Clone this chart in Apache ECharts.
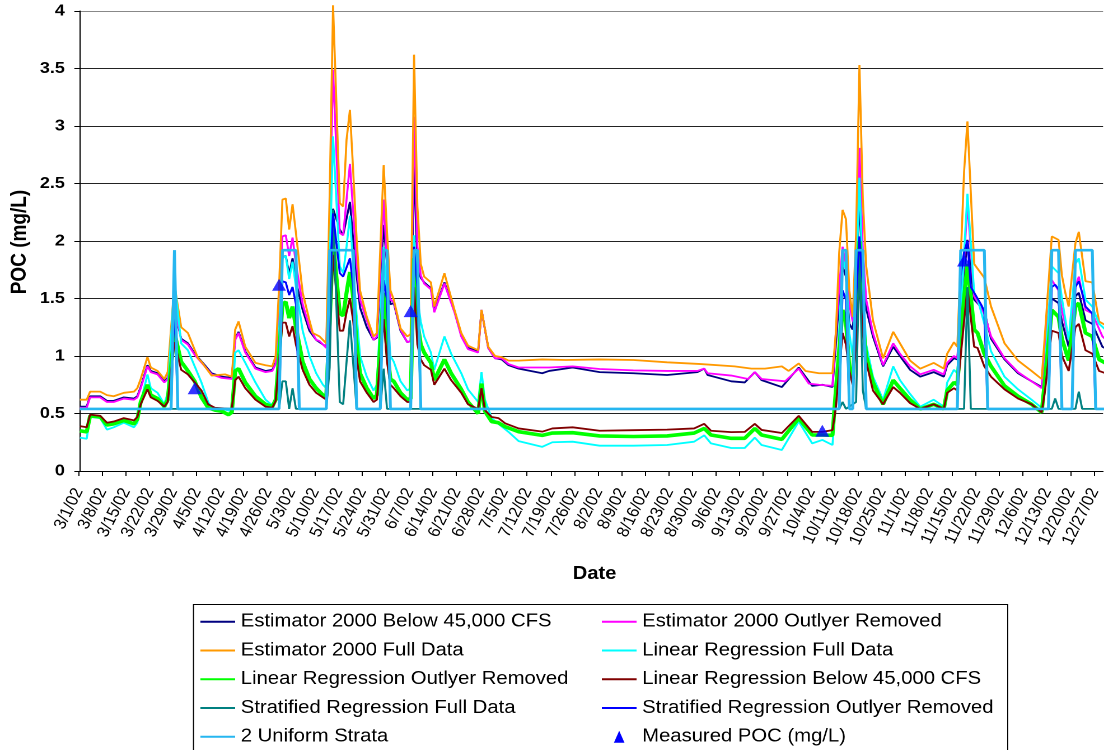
<!DOCTYPE html>
<html>
<head>
<meta charset="utf-8">
<script src="https://cdn.jsdelivr.net/npm/echarts@6/dist/echarts.min.js"></script>
<style>
html,body{margin:0;padding:0;background:#fff;overflow:hidden;width:1104px;height:750px;}
#wrap{width:986px;height:750px;transform:scaleX(1.1197);transform-origin:0 0;}
</style>
</head>
<body>
<div id="wrap"></div>
<script>
// ---- tick labels (one every 7 days, day 0 = 3/1/02) ----
const tickLabels = ['3/1/02','3/8/02','3/15/02','3/22/02','3/29/02','4/5/02','4/12/02','4/19/02','4/26/02','5/3/02','5/10/02','5/17/02','5/24/02','5/31/02','6/7/02','6/14/02','6/21/02','6/28/02','7/5/02','7/12/02','7/19/02','7/26/02','8/2/02','8/9/02','8/16/02','8/23/02','8/30/02','9/6/02','9/13/02','9/20/02','9/27/02','10/4/02','10/11/02','10/18/02','10/25/02','11/1/02','11/8/02','11/15/02','11/22/02','11/29/02','12/6/02','12/13/02','12/20/02','12/27/02'];

const seriesNames = ['Estimator 2000 Below 45,000 CFS','Estimator 2000 Outlyer Removed','Estimator 2000 Full Data','Linear Regression Full Data','Linear Regression Outlyer Removed','Linear Regression Below 45,000 CFS','Stratified Regression Full Data','Stratified Regression Outlyer Removed','2 Uniform Strata','Measured POC (mg/L)'];

// ---- series values: [day index, POC mg/L] ----
const e2000Below = [[0,0.56],[2,0.56],[3,0.65],[6,0.65],[8,0.61],[10,0.61],[13,0.64],[16,0.63],[17,0.65],[18,0.73],[20,0.92],[21,0.87],[23,0.85],[25,0.78],[26,0.81],[28,1.40],[30,1.15],[32,1.11],[34,1.02],[37,0.92],[39,0.85],[42,0.82],[45,0.81],[46,1.15],[47,1.21],[49,1.04],[52,0.90],[55,0.87],[57,0.88],[58,0.94],[59,1.4],[60,1.86],[61,1.87],[62,1.71],[63,1.85],[64,1.65],[66,1.40],[68,1.22],[70,1.14],[71,1.12],[73,1.08],[74,1.6],[75,2.28],[77,2.1],[78,2.05],[80,2.34],[81,2.0],[82,1.7],[83,1.42],[85,1.25],[87,1.14],[88,1.16],[90,2.14],[91,1.8],[92,1.45],[93,1.46],[95,1.22],[97,1.12],[98,1.13],[99,2.65],[100,1.8],[101,1.68],[102,1.64],[104,1.59],[105,1.39],[108,1.64],[111,1.39],[113,1.18],[115,1.07],[118,1.04],[119,1.40],[121,1.07],[123,0.98],[125,0.97],[127,0.92],[130,0.89],[137,0.85],[139,0.87],[146,0.90],[154,0.86],[164,0.85],[174,0.835],[183,0.86],[185,0.89],[186,0.835],[193,0.78],[197,0.77],[200,0.86],[202,0.79],[208,0.73],[213,0.90],[217,0.74],[220,0.75],[223,0.73],[224,1.1],[225,1.5],[226,1.78],[227,1.69],[228,1.28],[229,1.23],[230,1.6],[231,2.36],[232,1.69],[233,1.41],[235,1.17],[238,0.91],[241,1.08],[243,1.0],[246,0.88],[249,0.82],[253,0.86],[256,0.82],[257,0.92],[259,0.98],[260,0.97],[262,1.7],[263,2.01],[265,1.49],[266,1.46],[268,1.39],[270,1.15],[274,0.97],[278,0.85],[282,0.78],[285,0.73],[286,1.0],[288,1.5],[290,1.46],[291,1.3],[293,1.08],[295,1.52],[296,1.55],[298,1.31],[300,1.28],[303,1.08],[305,1.05]];

const e2000Outlyer = [[0,0.55],[2,0.55],[3,0.64],[6,0.64],[8,0.60],[10,0.60],[13,0.63],[16,0.62],[17,0.64],[18,0.72],[20,0.91],[21,0.86],[23,0.84],[25,0.77],[26,0.80],[28,1.45],[30,1.14],[32,1.10],[34,1.01],[37,0.91],[39,0.84],[42,0.81],[45,0.80],[46,1.14],[47,1.20],[49,1.03],[52,0.89],[55,0.86],[57,0.87],[58,0.93],[59,1.5],[60,2.04],[61,2.05],[62,1.87],[63,2.03],[64,1.8],[66,1.45],[68,1.25],[70,1.14],[71,1.13],[73,1.07],[74,2.2],[75,3.49],[77,2.07],[78,2.05],[79,2.36],[80,2.67],[81,2.24],[82,1.81],[83,1.49],[85,1.31],[87,1.14],[88,1.17],[90,2.36],[91,1.8],[92,1.49],[93,1.47],[95,1.23],[97,1.12],[98,1.13],[99,3.08],[100,1.95],[101,1.7],[102,1.63],[104,1.58],[105,1.38],[108,1.63],[111,1.38],[113,1.17],[115,1.06],[118,1.03],[119,1.40],[121,1.07],[123,0.98],[125,0.98],[127,0.93],[130,0.90],[139,0.90],[146,0.91],[154,0.887],[164,0.875],[174,0.87],[183,0.87],[185,0.89],[186,0.85],[193,0.83],[198,0.80],[200,0.86],[202,0.80],[209,0.78],[213,0.89],[216,0.76],[219,0.75],[223,0.74],[224,1.2],[225,1.6],[226,1.95],[227,1.78],[228,1.45],[229,1.30],[230,1.75],[231,2.81],[232,1.92],[233,1.49],[235,1.2],[238,0.92],[241,1.11],[243,1.02],[246,0.91],[249,0.84],[253,0.88],[256,0.84],[257,0.94],[259,1.0],[260,0.98],[262,1.83],[263,2.33],[265,1.52],[266,1.47],[268,1.37],[270,1.17],[274,0.98],[278,0.86],[282,0.78],[285,0.72],[286,1.1],[288,1.66],[290,1.57],[291,1.4],[293,1.14],[295,1.6],[296,1.69],[298,1.4],[300,1.37],[303,1.17],[305,1.12]];

const e2000Full = [[0,0.62],[2,0.62],[3,0.69],[6,0.69],[8,0.66],[10,0.65],[13,0.68],[16,0.69],[17,0.72],[18,0.80],[20,0.99],[21,0.90],[23,0.87],[25,0.80],[26,0.86],[28,1.62],[30,1.25],[32,1.20],[35,0.98],[36,0.95],[39,0.83],[43,0.84],[45,0.82],[46,1.23],[47,1.30],[49,1.08],[52,0.94],[55,0.92],[57,0.91],[58,1.0],[59,1.6],[60,2.36],[61,2.37],[62,2.10],[63,2.32],[64,2.07],[66,1.55],[68,1.31],[69,1.20],[71,1.17],[73,1.11],[74,2.4],[75,4.05],[77,2.33],[78,2.30],[79,2.88],[80,3.14],[81,2.59],[82,2.01],[83,1.57],[85,1.34],[87,1.17],[88,1.20],[90,2.66],[91,2.07],[92,1.57],[93,1.49],[95,1.24],[97,1.17],[98,1.19],[99,3.62],[100,2.3],[101,1.8],[102,1.69],[104,1.64],[105,1.43],[108,1.72],[111,1.40],[113,1.20],[115,1.09],[118,1.05],[119,1.40],[121,1.08],[123,1.0],[125,0.99],[127,0.96],[130,0.96],[137,0.97],[144,0.965],[154,0.97],[164,0.965],[174,0.945],[184,0.93],[194,0.91],[199,0.89],[203,0.89],[208,0.91],[210,0.87],[213,0.935],[215,0.87],[219,0.85],[223,0.85],[224,1.2],[225,1.9],[226,2.27],[227,2.19],[228,1.57],[229,1.34],[230,2.06],[231,3.53],[232,2.36],[233,1.78],[235,1.31],[238,0.98],[241,1.21],[243,1.11],[246,0.96],[249,0.89],[253,0.94],[256,0.89],[257,1.02],[259,1.12],[260,1.08],[262,2.6],[263,3.04],[265,1.80],[266,1.76],[268,1.68],[270,1.43],[274,1.11],[278,0.96],[282,0.87],[285,0.80],[286,1.2],[288,2.04],[290,2.01],[291,1.7],[292,1.55],[293,1.43],[295,1.98],[296,2.08],[298,1.65],[300,1.64],[302,1.30],[305,1.25]];

const lrFull = [[0,0.29],[2,0.28],[3,0.47],[6,0.46],[8,0.36],[10,0.38],[13,0.42],[16,0.38],[17,0.42],[18,0.60],[20,0.84],[21,0.72],[23,0.68],[25,0.58],[26,0.68],[28,1.65],[30,1.11],[32,1.05],[34,0.91],[36,0.77],[38,0.60],[39,0.55],[42,0.54],[45,0.52],[46,1.03],[47,1.05],[49,0.94],[52,0.77],[55,0.62],[57,0.57],[58,0.63],[59,1.2],[60,1.85],[61,1.87],[62,1.67],[63,1.82],[64,1.6],[66,1.22],[68,1.0],[70,0.85],[72,0.75],[73,0.72],[74,1.8],[75,2.91],[77,1.78],[78,1.72],[79,1.95],[80,2.22],[81,1.75],[82,1.35],[83,1.0],[85,0.82],[87,0.70],[88,0.75],[90,1.95],[91,1.4],[92,1.0],[93,0.95],[95,0.78],[97,0.70],[98,0.72],[99,2.05],[100,1.5],[101,1.3],[102,1.17],[104,1.03],[105,0.88],[108,1.17],[110,1.02],[113,0.85],[115,0.71],[118,0.60],[119,0.86],[120,0.62],[122,0.46],[124,0.41],[127,0.34],[130,0.26],[137,0.21],[140,0.25],[146,0.255],[154,0.22],[164,0.22],[174,0.226],[182,0.255],[185,0.31],[187,0.24],[193,0.20],[197,0.20],[200,0.29],[202,0.226],[208,0.183],[213,0.43],[217,0.24],[220,0.27],[223,0.226],[224,0.6],[226,1.85],[227,1.75],[228,1.2],[229,1.0],[230,1.6],[231,2.55],[232,1.6],[233,1.1],[235,0.82],[238,0.62],[241,0.91],[243,0.79],[246,0.67],[249,0.56],[253,0.62],[256,0.56],[257,0.77],[259,0.88],[260,0.85],[262,1.9],[263,2.41],[265,1.55],[266,1.5],[268,1.28],[270,1.04],[274,0.82],[278,0.71],[282,0.62],[285,0.55],[286,0.9],[288,1.78],[290,1.72],[291,1.5],[293,1.14],[295,1.80],[296,1.85],[298,1.49],[300,1.43],[302,1.28],[305,1.2]];

const lrOutlyer = [[0,0.35],[2,0.34],[3,0.48],[6,0.47],[8,0.40],[10,0.41],[13,0.44],[16,0.41],[17,0.45],[18,0.60],[20,0.75],[21,0.66],[23,0.63],[25,0.56],[26,0.62],[28,1.2],[30,0.95],[32,0.87],[34,0.78],[36,0.64],[38,0.55],[40,0.53],[42,0.52],[44,0.49],[45,0.51],[46,0.87],[47,0.89],[49,0.77],[52,0.65],[55,0.58],[57,0.56],[58,0.62],[59,1.0],[60,1.45],[61,1.47],[62,1.33],[63,1.43],[64,1.25],[66,0.95],[68,0.80],[70,0.72],[72,0.66],[73,0.65],[74,1.3],[75,2.0],[77,1.37],[78,1.35],[79,1.55],[80,1.73],[81,1.5],[82,1.1],[83,0.85],[85,0.72],[87,0.63],[88,0.66],[90,1.55],[91,1.05],[92,0.8],[93,0.78],[95,0.68],[97,0.62],[98,0.63],[99,1.85],[100,1.3],[101,1.1],[102,1.03],[104,0.94],[105,0.79],[108,0.97],[110,0.85],[113,0.71],[115,0.6],[118,0.5],[119,0.76],[120,0.52],[122,0.43],[124,0.42],[126,0.385],[130,0.342],[137,0.31],[140,0.33],[146,0.333],[154,0.305],[164,0.30],[174,0.305],[182,0.33],[185,0.37],[187,0.313],[193,0.284],[197,0.284],[200,0.37],[202,0.313],[208,0.275],[213,0.458],[217,0.313],[220,0.313],[223,0.31],[224,0.7],[226,1.4],[227,1.3],[228,0.9],[229,0.8],[230,1.3],[231,2.0],[232,1.3],[233,1.0],[235,0.77],[238,0.58],[241,0.79],[243,0.72],[246,0.62],[249,0.54],[253,0.58],[256,0.54],[257,0.70],[259,0.77],[260,0.75],[262,1.5],[263,1.80],[265,1.23],[266,1.2],[268,1.02],[270,0.91],[274,0.74],[278,0.65],[282,0.58],[285,0.51],[286,0.8],[288,1.4],[290,1.34],[291,1.15],[293,0.96],[295,1.43],[296,1.46],[298,1.2],[300,1.17],[302,0.97],[305,0.92]];

const lrBelow = [[0,0.39],[2,0.38],[3,0.49],[6,0.48],[8,0.42],[10,0.43],[13,0.46],[16,0.44],[17,0.47],[18,0.58],[20,0.71],[21,0.64],[23,0.61],[25,0.56],[26,0.60],[28,1.12],[30,0.88],[32,0.84],[34,0.77],[36,0.70],[38,0.58],[40,0.55],[45,0.54],[46,0.79],[47,0.82],[49,0.72],[52,0.62],[55,0.56],[57,0.55],[58,0.61],[59,0.95],[60,1.29],[61,1.29],[62,1.17],[63,1.26],[64,1.1],[66,0.88],[68,0.75],[70,0.68],[72,0.64],[73,0.62],[74,1.2],[75,1.88],[77,1.22],[78,1.22],[79,1.38],[80,1.50],[81,1.3],[82,0.98],[83,0.78],[85,0.68],[87,0.6],[88,0.62],[90,1.32],[91,0.95],[92,0.75],[93,0.72],[95,0.65],[97,0.6],[98,0.6],[99,1.6],[100,1.1],[101,0.97],[102,0.92],[104,0.88],[105,0.75],[108,0.89],[110,0.79],[113,0.68],[115,0.58],[118,0.54],[119,0.72],[120,0.53],[122,0.47],[124,0.46],[126,0.415],[130,0.37],[137,0.342],[140,0.37],[146,0.38],[154,0.35],[164,0.355],[174,0.36],[182,0.37],[185,0.41],[187,0.35],[193,0.338],[197,0.34],[200,0.41],[202,0.357],[208,0.33],[213,0.48],[217,0.34],[220,0.34],[223,0.355],[224,0.55],[226,1.2],[227,1.1],[228,0.87],[229,0.75],[230,1.1],[231,1.65],[232,1.2],[233,0.95],[235,0.70],[238,0.58],[241,0.73],[243,0.68],[246,0.59],[249,0.54],[253,0.58],[256,0.54],[257,0.68],[259,0.72],[260,0.7],[262,1.3],[263,1.59],[265,1.08],[266,1.07],[268,0.91],[270,0.82],[274,0.71],[278,0.63],[282,0.58],[285,0.51],[286,0.7],[288,1.22],[290,1.2],[291,1.0],[293,0.87],[295,1.25],[296,1.28],[298,1.05],[300,1.02],[302,0.87],[305,0.84]];

const stratFull = [[0,0.54],[59,0.54],[60,0.78],[61,0.78],[62,0.54],[63,0.72],[64,0.54],[73,0.54],[74,0.9],[75,2.27],[77,0.6],[78,0.58],[80,1.31],[82,0.54],[89,0.54],[90,0.89],[91,0.54],[225,0.54],[226,0.60],[227,0.54],[230,0.6],[231,1.9],[232,0.7],[233,0.54],[262,0.54],[263,1.6],[264,0.54],[288,0.54],[289,0.63],[290,0.54],[295,0.54],[296,0.69],[297,0.54],[305,0.54]];

const stratOutlyer = [[0,0.54],[27,0.54],[28,1.49],[29,0.54],[59,0.54],[60,1.65],[61,1.64],[62,1.53],[63,1.60],[64,1.45],[65,0.54],[73,0.54],[74,1.6],[75,2.24],[77,1.72],[78,1.69],[80,1.85],[81,1.6],[82,0.54],[89,0.54],[90,1.66],[91,1.49],[92,0.54],[98,0.54],[99,1.95],[100,1.6],[101,0.54],[225,0.54],[226,1.57],[227,1.49],[228,0.54],[229,0.54],[230,1.5],[231,2.04],[232,1.6],[233,0.54],[260,0.54],[261,1.7],[262,1.9],[263,2.0],[264,1.6],[265,1.55],[266,1.5],[267,1.45],[268,1.39],[269,0.54],[287,0.54],[288,1.6],[289,1.62],[290,1.58],[291,0.54],[294,0.54],[295,1.6],[296,1.65],[297,1.55],[298,1.43],[299,1.40],[300,1.37],[301,0.54],[305,0.54]];

const uniformStrata = [[0,0.54],[27,0.54],[28,1.92],[29,0.54],[59,0.54],[60,1.92],[64,1.92],[65,0.54],[73,0.54],[74,1.92],[81,1.92],[82,0.54],[89,0.54],[90,1.92],[91,1.92],[92,0.54],[98,0.54],[99,1.92],[100,1.92],[101,0.54],[225,0.54],[226,1.92],[227,1.92],[228,0.54],[229,0.54],[230,1.92],[232,1.92],[233,0.54],[260,0.54],[261,1.92],[268,1.92],[269,0.54],[287,0.54],[288,1.92],[290,1.92],[291,0.54],[294,0.54],[295,1.92],[300,1.92],[301,0.54],[305,0.54]];

const measuredPOC = [[34,0.72],[59,1.62],[98,1.39],[220,0.35],[262,1.83]];

// ---- styling ----
const colors = ['#000080','#FF00FF','#FF9900','#00FFFF','#00FF00','#800000','#008080','#0000FF','#26B6F0','#0000FF'];
const widths = [1.8,1.8,1.8,1.8,3.6,1.8,1.8,1.8,2.6];
const lineData = [e2000Below,e2000Outlyer,e2000Full,lrFull,lrOutlyer,lrBelow,stratFull,stratOutlyer,uniformStrata];

const FONT = '"Liberation Sans", Arial, sans-serif';
const labelShift = -0.35;
const tickVals = tickLabels.map((_, k) => 7 * k - 0.5);
const labelVals = tickLabels.map((_, k) => 7 * k + labelShift);

const series = lineData.map((d, i) => ({
  name: seriesNames[i], type: 'line', data: d, symbol: 'none', clip: false,
  lineStyle: { color: colors[i], width: widths[i] }, itemStyle: { color: colors[i] },
  emphasis: { disabled: true }, silent: true, z: 2 + i * 0.01
}));
series.push({
  name: seriesNames[9], type: 'scatter', data: measuredPOC, symbol: 'triangle',
  symbolSize: [12.5, 12], itemStyle: { color: colors[9] }, z: 5, silent: true
});

// legend triangle: centred in the 31x12 icon box, 9.5 wide
const triIcon = 'path://M0,0L0,0M31,12L31,12M15.5,0L20.25,12L10.75,12Z';
function legendItems(idx) {
  return idx.map(i => i === 9
    ? { name: seriesNames[i], icon: triIcon, itemStyle: { opacity: 1 } }
    : { name: seriesNames[i] });
}

const chart = echarts.init(document.getElementById('wrap'), null, { renderer: 'canvas', devicePixelRatio: 2 });
const legendCommon = {
  orient: 'vertical', top: 611.7, itemWidth: 31, itemHeight: 12, itemGap: 8.75,
  selectedMode: false, padding: 0,
  itemStyle: { opacity: 0 },
  textStyle: { fontSize: 18.1, color: '#000', fontFamily: FONT, lineHeight: 20 }
};
chart.setOption({
  animation: false,
  backgroundColor: '#fff',
  grid: { left: 69.9, right: 0, top: 11, bottom: 279 },
  xAxis: {
    type: 'value', min: -0.5, max: 303.2,
    axisLine: { show: true, onZero: false, lineStyle: { color: '#000', width: 1 } },
    axisTick: { show: true, length: 5, customValues: tickVals, lineStyle: { color: '#000' } },
    axisLabel: {
      customValues: labelVals, rotate: 66, fontSize: 15.5, color: '#000', fontFamily: FONT, margin: 18,
      formatter: v => tickLabels[Math.round((v - labelShift) / 7)] || ''
    },
    splitLine: { show: false }
  },
  yAxis: {
    type: 'value', min: 0, max: 4, interval: 0.5,
    axisLine: { show: true, lineStyle: { color: '#000', width: 1 } },
    axisTick: { show: true, length: 5, lineStyle: { color: '#000' } },
    axisLabel: { fontSize: 16, fontWeight: 'bold', color: '#000', fontFamily: FONT, margin: 12 },
    splitLine: { show: true, lineStyle: { color: ['#000','#222','#222','#222','#222','#222','#222','#222','#888'], width: 1 } }
  },
  legend: [
    Object.assign({ left: 178, data: legendItems([0, 2, 4, 6, 8]) }, legendCommon),
    Object.assign({ left: 536.5, data: legendItems([1, 3, 5, 7, 9]) }, legendCommon)
  ],
  graphic: [
    { type: 'text', x: 531, y: 574, silent: true,
      style: { text: 'Date', font: 'bold 18px ' + FONT, fill: '#000', align: 'center', verticalAlign: 'middle' } },
    { type: 'text', x: 17.9, y: 242, rotation: Math.PI / 2, silent: true,
      style: { text: 'POC (mg/L)', font: 'bold 19px ' + FONT, fill: '#000', align: 'center', verticalAlign: 'middle' } },
    { type: 'rect', silent: true, shape: { x: 172.8, y: 604.5, width: 727.2, height: 200 },
      style: { fill: 'none', stroke: '#000', lineWidth: 1 } }
  ],
  series: series
});
</script>
</body>
</html>
